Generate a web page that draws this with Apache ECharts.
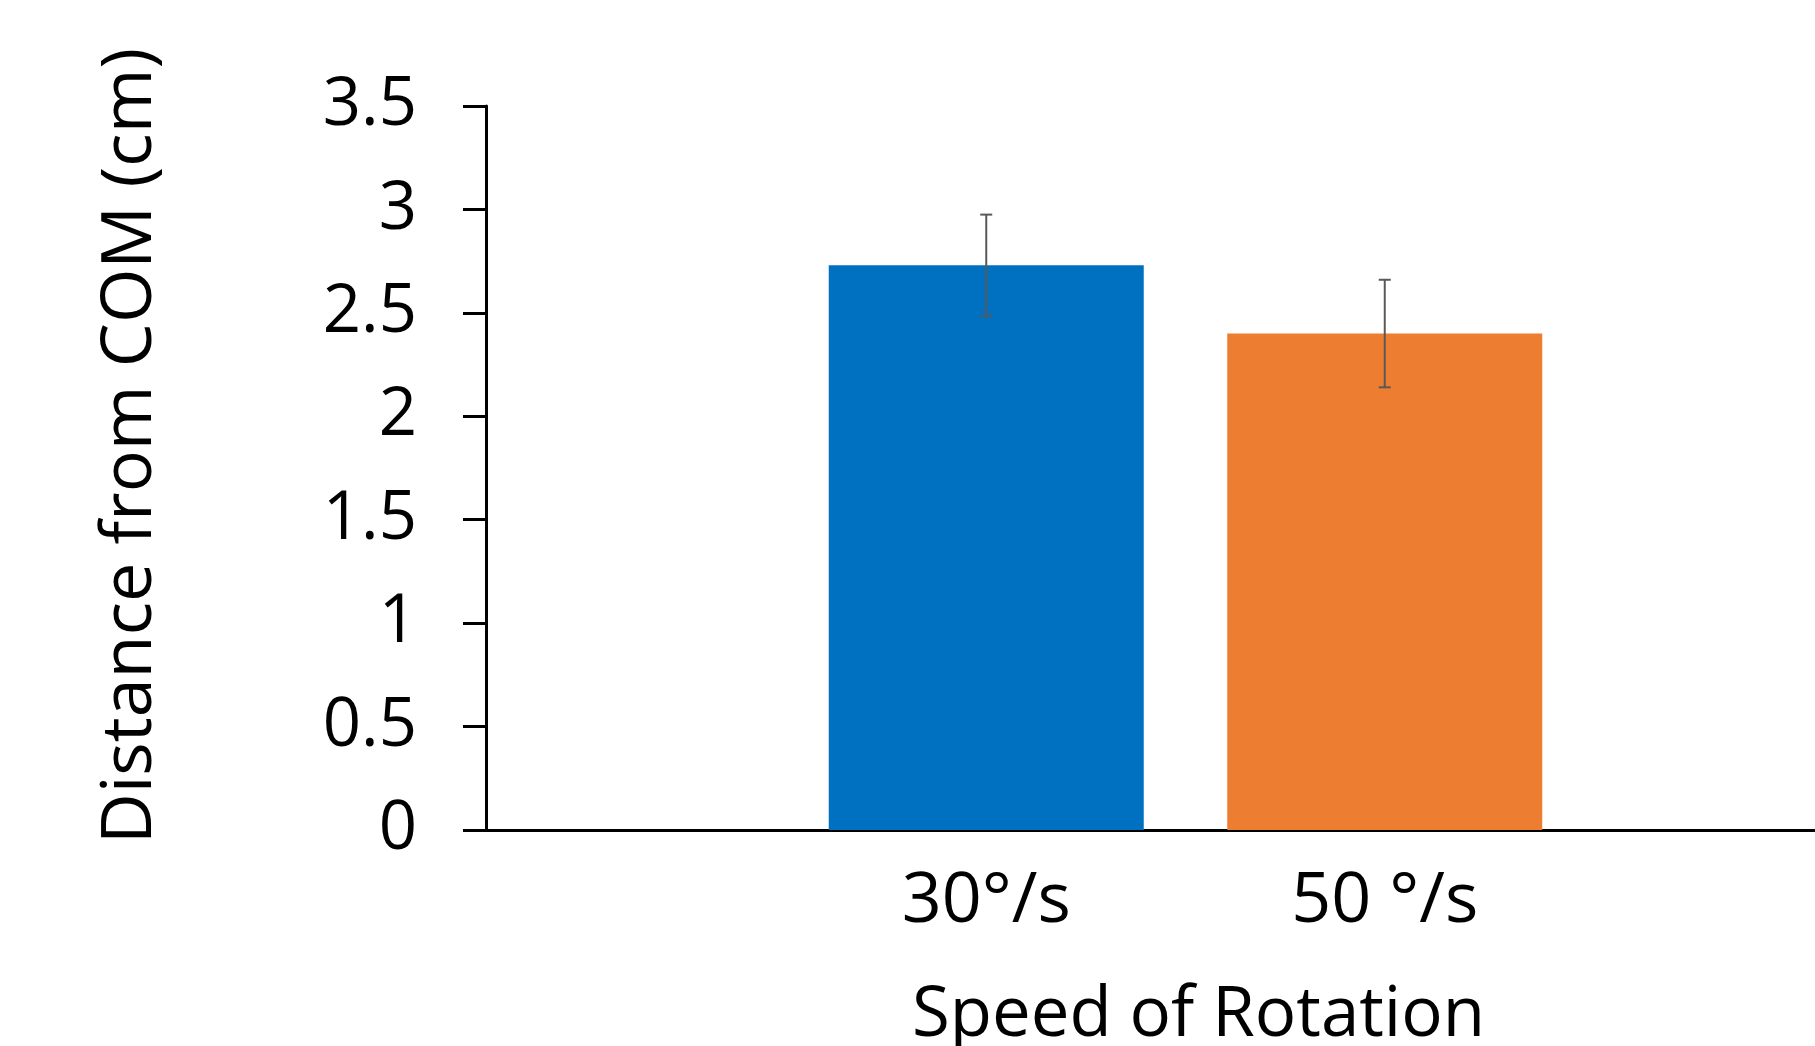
<!DOCTYPE html>
<html>
<head>
<meta charset="utf-8">
<script src="https://cdn.jsdelivr.net/npm/echarts@6/dist/echarts.min.js"></script>
<style>html,body{margin:0;padding:0;background:#fff}#chart{width:1815px;height:1046px}</style>
</head>
<body>
<div id="chart"></div>
<script>
var categories = ['30°/s', '50 °/s'];
var means = [2.73, 2.40];
var errors = [0.245, 0.26];
var yTicks = { min: 0, max: 3.5, interval: 0.5 };
var xTitle = 'Speed of Rotation';
var yTitle = 'Distance from COM (cm)';

var barColors = ['#0070C0', '#ED7D31'];
var FONT = 'Open Sans';
var chart = echarts.init(document.getElementById('chart'));
var errData = categories.map(function (c, i) { return [i, means[i] - errors[i], means[i] + errors[i]]; });

chart.setOption({
  animation: false,
  backgroundColor: '#fff',
  grid: [
    { left: 486, right: 0, top: 106, bottom: 216, containLabel: false, outerBoundsMode: 'none' },
    { left: 787, right: 231, top: 106, bottom: 216, containLabel: false, outerBoundsMode: 'none' }
  ],
  xAxis: [
    { gridIndex: 0, type: 'value', min: 0, max: 1,
      axisLine: { show: true, lineStyle: { color: '#000', width: 3 } },
      axisTick: { show: false }, axisLabel: { show: false }, splitLine: { show: false } },
    { gridIndex: 1, type: 'category', data: categories,
      axisLine: { show: false }, axisTick: { show: false }, splitLine: { show: false },
      axisLabel: { color: '#000', fontFamily: FONT, fontSize: 70, margin: 37 },
      name: xTitle, nameLocation: 'middle', nameGap: 152,
      nameTextStyle: { color: '#000', fontFamily: FONT, fontSize: 69, padding: [0, 0, 0, 26] } }
  ],
  yAxis: [
    { gridIndex: 0, type: 'value', min: yTicks.min, max: yTicks.max, interval: yTicks.interval,
      axisLine: { show: true, lineStyle: { color: '#000', width: 3 } },
      axisTick: { show: true, length: 23, lineStyle: { color: '#000', width: 3 } },
      splitLine: { show: false },
      axisLabel: { color: '#000', fontFamily: FONT, fontSize: 67, margin: 69 },
      name: yTitle, nameLocation: 'middle', nameRotate: 90, nameGap: 320,
      nameTextStyle: { color: '#000', fontFamily: FONT, fontSize: 70, padding: [0, 0, 0, 44] } },
    { gridIndex: 1, type: 'value', min: yTicks.min, max: yTicks.max, interval: yTicks.interval, show: false }
  ],
  series: [
    { type: 'bar', xAxisIndex: 1, yAxisIndex: 1, data: means, barWidth: 315,
      itemStyle: { color: function (p) { return barColors[p.dataIndex]; } } },
    { type: 'custom', xAxisIndex: 1, yAxisIndex: 1, data: errData, z: 10,
      renderItem: function (params, api) {
        var x = api.value(0);
        var lo = api.coord([x, api.value(1)]);
        var hi = api.coord([x, api.value(2)]);
        var hw = 6;
        var st = { stroke: '#595959', lineWidth: 2 };
        return { type: 'group', children: [
          { type: 'line', shape: { x1: lo[0], y1: lo[1], x2: hi[0], y2: hi[1] }, style: st },
          { type: 'line', shape: { x1: hi[0] - hw, y1: hi[1], x2: hi[0] + hw, y2: hi[1] }, style: st },
          { type: 'line', shape: { x1: lo[0] - hw, y1: lo[1], x2: lo[0] + hw, y2: lo[1] }, style: st }
        ] };
      } }
  ]
});
</script>
</body>
</html>
